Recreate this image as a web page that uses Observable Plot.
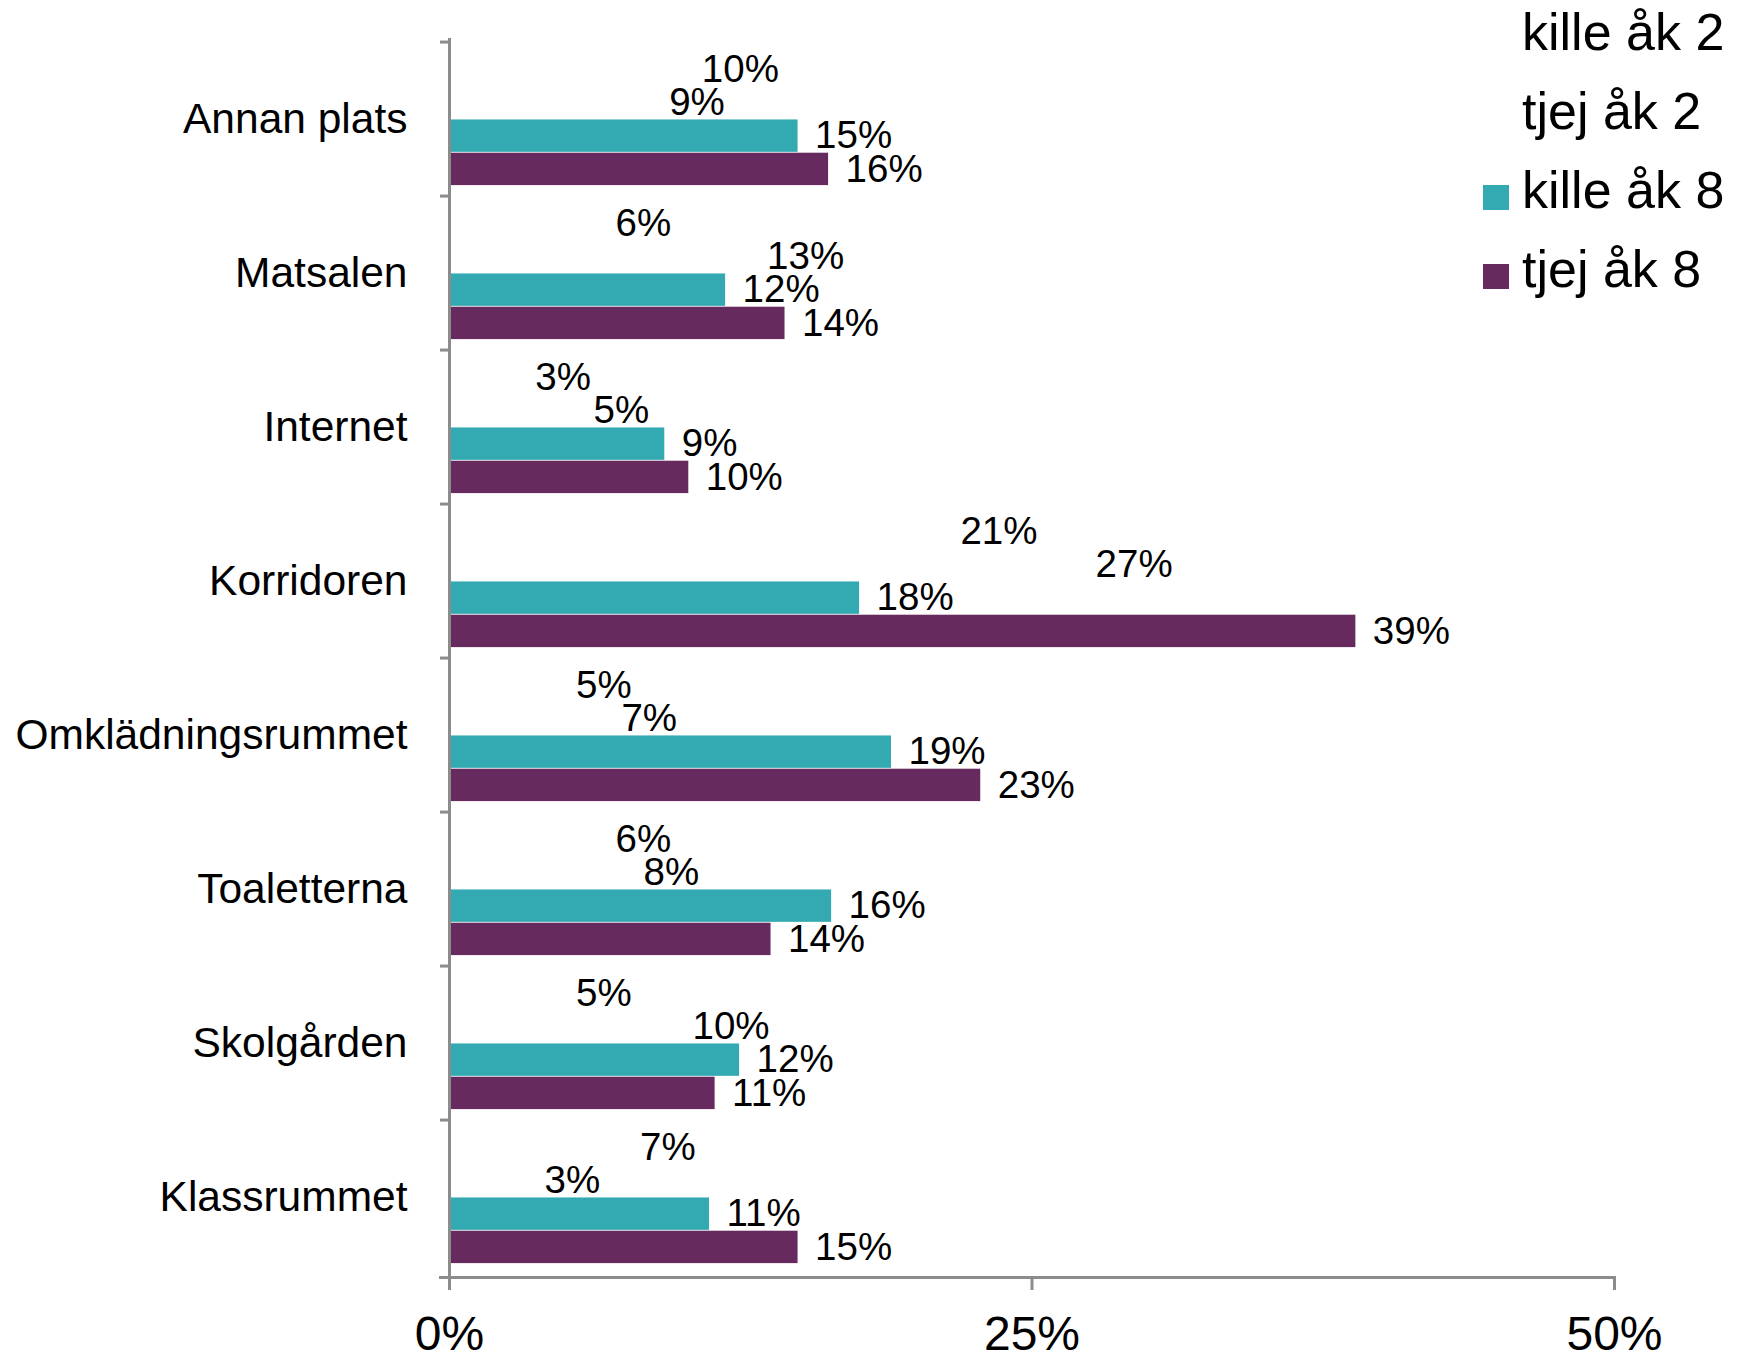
<!DOCTYPE html>
<html>
<head>
<meta charset="utf-8">
<script src="https://cdn.jsdelivr.net/npm/d3@7"></script>
<script src="https://cdn.jsdelivr.net/npm/@observablehq/plot@0.6"></script>
<style>
  html, body { margin: 0; padding: 0; background: #fff; }
  body { font-family: "Liberation Sans", Arial, sans-serif; color: #000; }
  #wrap { position: relative; width: 1749px; height: 1355px; overflow: hidden; }
  #legend { position: absolute; left: 0; top: 0; width: 1749px; height: 0; }
  .lg-row { position: absolute; left: 1483px; height: 79px; width: 266px; font-size: 52px; line-height: 52px; white-space: nowrap; }
  .lg-sw { position: absolute; left: 0; width: 26px; height: 25px; }
  .lg-tx { position: absolute; left: 39px; top: 0; }
</style>
</head>
<body>
<div id="wrap">
  <div id="chart"></div>
  <div id="legend"></div>
</div>
<script>
// ---- data ----
const categories = ["Annan plats", "Matsalen", "Internet", "Korridoren", "Omklädningsrummet", "Toaletterna", "Skolgården", "Klassrummet"];
const seriesNames = ["kille åk 2", "tjej åk 2", "kille åk 8", "tjej åk 8"];
const killeAk2 = [10.1, 6.4, 2.95, 21.2, 4.7, 6.4, 4.7, 7.45];
const tjejAk2  = [8.7, 12.9, 5.45, 27.0, 6.65, 7.6, 9.7, 3.35];
const killeAk8 = [14.96, 11.85, 9.24, 17.6, 18.97, 16.4, 12.45, 11.16];
const tjejAk8  = [16.27, 14.4, 10.27, 38.9, 22.8, 13.8, 11.4, 14.96];
const xTicks = [0, 25, 50];
const seriesColors = ["none", "none", "#33A9B1", "#672A5E"];
const legendSwatches = ["none", "none", "#33A9B1", "#672A5E"];

const seriesValues = [killeAk2, tjejAk2, killeAk8, tjejAk8];
const data = [];
categories.forEach((c, ci) => {
  seriesNames.forEach((s, si) => {
    data.push({category: c, series: s, value: seriesValues[si][ci]});
  });
});

// ---- layout ----
const W = 1749, H = 1355;
const marginTop = 38, marginBottom = 78, marginLeft = 449, marginRight = 135;
const band = (H - marginTop - marginBottom) / categories.length;
const padIn = 10.9;
const barH = (band - 2 * padIn) / seriesNames.length;
const axisGray = "#8c8c8c";

const marks = [];
seriesNames.forEach((s, i) => {
  const rows = data.filter(d => d.series === s);
  marks.push(Plot.barX(rows, {
    x: "value", y: "category", fill: "series",
    insetTop: padIn + i * barH,
    insetBottom: padIn + (seriesNames.length - 1 - i) * barH
  }));
  marks.push(Plot.text(rows, {
    x: "value", y: "category",
    text: d => Math.round(d.value) + "%",
    textAnchor: "start", dx: 17,
    dy: (i - (seriesNames.length - 1) / 2) * barH,
    fontSize: 38.5, fill: "#000"
  }));
});

marks.push(
  Plot.ruleX([0], {stroke: axisGray, strokeWidth: 3}),
  Plot.frame({anchor: "bottom", stroke: axisGray, strokeWidth: 3, insetLeft: -9}),
  Plot.axisY({tickSize: 0, tickPadding: 42, fontSize: 42.5, label: null}),
  Plot.axisY({tickSize: 9, tickFormat: () => "", dy: -band / 2, stroke: axisGray, strokeWidth: 3, label: null}),
  Plot.axisX({ticks: xTicks, tickFormat: d => d + "%", tickSize: 13, tickPadding: 25, fontSize: 48, stroke: axisGray, strokeWidth: 3, label: null})
);

const chart = Plot.plot({
  width: W, height: H,
  marginTop, marginBottom, marginLeft, marginRight,
  style: {fontFamily: "'Liberation Sans', Arial, sans-serif", color: "#000", background: "#fff", fontSize: "37px"},
  x: {domain: [0, 50], label: null},
  y: {domain: categories, padding: 0, label: null},
  color: {domain: seriesNames, range: seriesColors},
  marks
});
document.getElementById("chart").appendChild(chart);

// ---- legend (HTML, overlaid top right) ----
const legend = document.getElementById("legend");
const rowTops = [6, 85, 164, 243];
seriesNames.forEach((s, i) => {
  const row = document.createElement("div");
  row.className = "lg-row";
  row.style.top = rowTops[i] + "px";
  const sw = document.createElement("div");
  sw.className = "lg-sw";
  sw.style.top = "21px";
  sw.style.background = legendSwatches[i] === "none" ? "transparent" : legendSwatches[i];
  const tx = document.createElement("div");
  tx.className = "lg-tx";
  tx.textContent = s;
  row.appendChild(sw);
  row.appendChild(tx);
  legend.appendChild(row);
});
</script>
</body>
</html>
